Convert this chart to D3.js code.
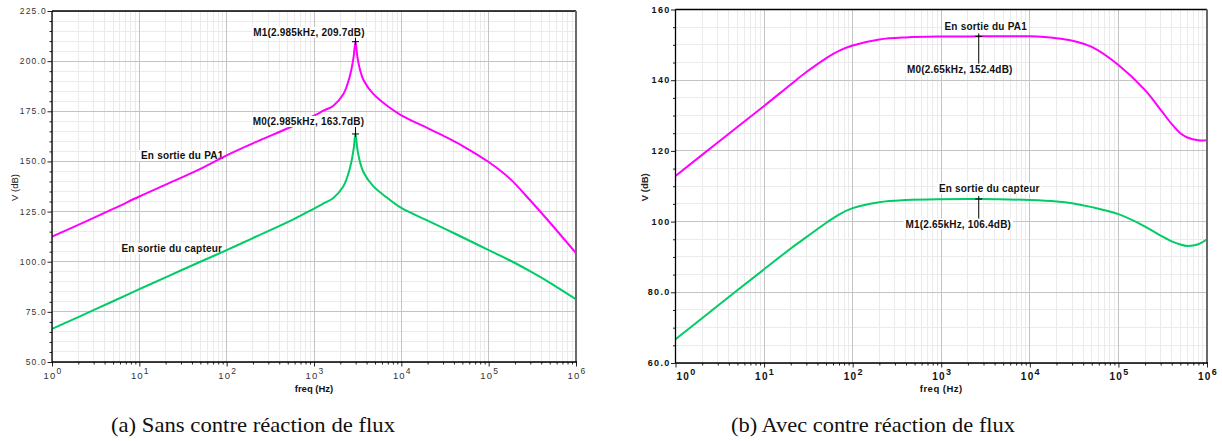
<!DOCTYPE html>
<html><head><meta charset="utf-8">
<script src="https://cdn.jsdelivr.net/npm/d3@7"></script>
<style>
html,body{margin:0;padding:0;background:#fff;}
svg{display:block;}
</style></head><body>
<svg id="chart" width="1222" height="441"></svg>
<script>
// ---------------- data ----------------
// (a) Sans contre réaction de flux
const freqA = [1, 2, 5, 10, 20, 50, 100, 200, 581, 1000, 1300, 1667, 2163, 2450, 2685, 2850, 2985, 3130, 3373, 3700, 4740, 7000, 10000, 20000, 33000, 50000, 100000, 176000, 300000, 463000, 1000000];
const pa1A = [112.5, 118.4, 126.3, 132.5, 138.4, 146.3, 153, 159, 167.8, 172.8, 175.4, 177.8, 183.5, 189.3, 196, 202.5, 209.7, 202.5, 195.5, 190.5, 183.8, 177.5, 173, 166.6, 162, 157.8, 149.7, 141.3, 130.5, 121.3, 104.3];
const capteurA = [66.5, 72.4, 80.3, 86.3, 92.2, 100, 105.8, 111.8, 121.1, 126.5, 129.2, 131.8, 137.5, 143.3, 150, 156.5, 163.7, 156.5, 149.5, 144.5, 137.8, 131.6, 126.8, 120.5, 116, 112.2, 105.8, 100.6, 95.2, 90.5, 81.3];
const yTicksA = [50, 75, 100, 125, 150, 175, 200, 225];
const yTickLabelsA = ["50.0", "75.0", "100.0", "125.0", "150.0", "175.0", "200.0", "225.0"];
const markerFreqA = [2985, 2985];
const markerValA = [209.7, 163.7];
const markerTextA = ["M1(2.985kHz, 209.7dB)", "M0(2.985kHz, 163.7dB)"];

// (b) Avec contre réaction de flux
const freqB = [1, 3, 10, 20, 30, 50, 70, 100, 200, 400, 1000, 2650, 10000, 20000, 30000, 50000, 100000, 200000, 300000, 400000, 500000, 600000, 800000, 1000000];
const pa1B = [112.9, 122.4, 132.7, 138.8, 142.3, 146.2, 148.3, 149.8, 151.5, 152.1, 152.35, 152.4, 152.4, 151.9, 151.2, 149.4, 144.3, 137.2, 131.6, 127.6, 125, 123.8, 123.0, 123.0];
const capteurB = [66.7, 76.2, 86.5, 92.4, 95.6, 99.6, 102, 103.8, 105.5, 106.1, 106.35, 106.4, 106.1, 105.7, 105.2, 104.1, 102.1, 98.6, 96, 94.4, 93.5, 93.1, 93.6, 95];
const yTicksB = [60, 80, 100, 120, 140, 160];
const yTickLabelsB = ["60.0", "80.0", "100", "120", "140", "160"];
const markerFreqB = [2650, 2650];
const markerValB = [152.4, 106.4];
const markerTextB = ["M0(2.65kHz, 152.4dB)", "M1(2.65kHz, 106.4dB)"];

const xTickExponents = [0, 1, 2, 3, 4, 5, 6];
const seriesNames = ["En sortie du PA1", "En sortie du capteur"];
const captions = ["(a) Sans contre réaction de flux", "(b) Avec contre réaction de flux"];
const xTitle = "freq (Hz)";
const yTitle = "V (dB)";

// ---------------- layout / style ----------------
const colors = ["#ff00ff", "#00cc66"];
const SANS = '"Liberation Sans", Arial, sans-serif';
const svg = d3.select("#chart");

const charts = [
  {
    x0: 52, x1: 576, y0: 11, y1: 362, yDomain: [50, 225], yMinorStep: 5,
    freq: freqA, series: [pa1A, capteurA], yTicks: yTicksA, yLabels: yTickLabelsA,
    curve: d3.curveCatmullRom.alpha(0.5),
    tickWeight: "normal", tickColor: "#333", tickSize: 8.5, tickSpacing: 1.2,
    xLabelY: 379, firstStart: false, xTitleY: 392, yTitleX: 15, titleWeight: "bold", yTitleWeight: "normal",
    markers: [
      {f: markerFreqA[0], v: markerValA[0], text: markerTextA[0], dx: -46.5, dy: -9.6},
      {f: markerFreqA[1], v: markerValA[1], text: markerTextA[1], dx: -47, dy: -12.6}
    ],
    seriesLabels: [
      {text: seriesNames[0], f: 31, v: 153},
      {text: seriesNames[1], f: 23.5, v: 106.6}
    ],
    caption: captions[0], captionX: 253
  },
  {
    x0: 675.5, x1: 1207, y0: 9.5, y1: 363, yDomain: [60, 160], yMinorStep: 5,
    freq: freqB, series: [pa1B, capteurB], yTicks: yTicksB, yLabels: yTickLabelsB,
    curve: d3.curveCatmullRom.alpha(0.5),
    tickWeight: "bold", tickColor: "#111", tickSize: 9, tickSpacing: 1.3,
    xLabelY: 380, firstStart: true, xTitleY: 392, yTitleX: 645, titleWeight: "bold", yTitleWeight: "bold",
    markers: [
      {f: markerFreqB[0], v: markerValB[0], text: markerTextB[0], dx: -19, dy: 32.6},
      {f: markerFreqB[1], v: markerValB[1], text: markerTextB[1], dx: -20.5, dy: 25}
    ],
    seriesLabelsRel: [
      {text: seriesNames[0], mi: 0, dx: 7, dy: -9.6},
      {text: seriesNames[1], mi: 1, dx: 10.5, dy: -11}
    ],
    caption: captions[1], captionX: 873
  }
];

function addLabel(g, cx, cy, text) {
  const lg = g.append("g");
  const rect = lg.append("rect").attr("fill", "#fff");
  const t = lg.append("text")
    .attr("x", cx).attr("y", cy).attr("dy", "0.36em")
    .attr("text-anchor", "middle")
    .style("font-family", SANS).style("font-size", "10px").style("font-weight", "bold")
    .style("letter-spacing", "0.2px").attr("fill", "#111")
    .text(text);
  const bb = t.node().getBBox();
  rect.attr("x", bb.x - 2).attr("y", bb.y).attr("width", bb.width + 4).attr("height", bb.height);
  return bb;
}

charts.forEach(cfg => {
  const g = svg.append("g");
  const x = d3.scaleLog().domain([1, 1e6]).range([cfg.x0, cfg.x1]);
  const y = d3.scaleLinear().domain(cfg.yDomain).range([cfg.y1, cfg.y0]);

  const xMinor = x.ticks().filter(v => !xTickExponents.some(e => Math.abs(v - Math.pow(10, e)) < 1e-9));
  const xMajor = xTickExponents.map(e => Math.pow(10, e));
  const yMinor = d3.range(cfg.yDomain[0], cfg.yDomain[1] + 0.001, cfg.yMinorStep).filter(v => !cfg.yTicks.includes(v));

  // minor grid
  g.append("g").selectAll("line").data(xMinor).join("line")
    .attr("x1", d => x(d)).attr("x2", d => x(d)).attr("y1", cfg.y0).attr("y2", cfg.y1)
    .attr("stroke", "#ebebeb").attr("stroke-width", 1).attr("shape-rendering", "crispEdges");
  g.append("g").selectAll("line").data(yMinor).join("line")
    .attr("x1", cfg.x0).attr("x2", cfg.x1).attr("y1", d => y(d)).attr("y2", d => y(d))
    .attr("stroke", "#ebebeb").attr("stroke-width", 1).attr("shape-rendering", "crispEdges");
  // major grid
  g.append("g").selectAll("line").data(xMajor).join("line")
    .attr("x1", d => x(d)).attr("x2", d => x(d)).attr("y1", cfg.y0).attr("y2", cfg.y1)
    .attr("stroke", "#c4c4c4").attr("stroke-width", 1).attr("shape-rendering", "crispEdges");
  g.append("g").selectAll("line").data(cfg.yTicks).join("line")
    .attr("x1", cfg.x0).attr("x2", cfg.x1).attr("y1", d => y(d)).attr("y2", d => y(d))
    .attr("stroke", "#c4c4c4").attr("stroke-width", 1).attr("shape-rendering", "crispEdges");

  // series labels (with white background, under the curves)
  if (cfg.seriesLabels) {
    cfg.seriesLabels.forEach(l => addLabel(g, x(l.f), y(l.v), l.text));
  }
  if (cfg.seriesLabelsRel) {
    cfg.seriesLabelsRel.forEach(l => {
      const m = cfg.markers[l.mi];
      addLabel(g, x(m.f) + l.dx, y(m.v) + l.dy, l.text);
    });
  }

  // curves
  const line = d3.line().x(d => x(d[0])).y(d => y(d[1])).curve(cfg.curve);
  cfg.series.forEach((s, i) => {
    g.append("path").datum(cfg.freq.map((f, k) => [f, s[k]]))
      .attr("d", line).attr("fill", "none").attr("stroke", colors[i]).attr("stroke-width", 2);
  });

  // markers
  cfg.markers.forEach(m => {
    const px = x(m.f), py = y(m.v);
    const bb = addLabel(g, px + m.dx, py + m.dy, m.text);
    if (m.dy < 0) {
      g.append("line").attr("x1", px).attr("x2", px).attr("y1", bb.y + bb.height).attr("y2", py + 3)
        .attr("stroke", "#000").attr("stroke-width", 1);
    } else {
      g.append("line").attr("x1", px).attr("x2", px).attr("y1", py - 3).attr("y2", bb.y)
        .attr("stroke", "#000").attr("stroke-width", 1);
    }
    g.append("line").attr("x1", px - 3.5).attr("x2", px + 3.5).attr("y1", py).attr("y2", py)
      .attr("stroke", "#000").attr("stroke-width", 1);
  });

  // axes ticks (minor + major) via d3 axes
  const axMinorX = d3.axisBottom(x).tickValues(xMinor).tickSize(2.5).tickFormat("");
  const axMajorX = d3.axisBottom(x).tickValues(xMajor).tickSize(4.5).tickFormat("");
  const axMinorY = d3.axisLeft(y).tickValues(yMinor).tickSize(2.5).tickFormat("");
  const axMajorY = d3.axisLeft(y).tickValues(cfg.yTicks).tickSize(4.5).tickFormat("");
  [axMinorX, axMajorX].forEach(a => {
    const ag = g.append("g").attr("transform", `translate(0,${cfg.y1})`).call(a);
    ag.select(".domain").remove();
    ag.selectAll("line").attr("stroke", "#222");
  });
  [axMinorY, axMajorY].forEach(a => {
    const ag = g.append("g").attr("transform", `translate(${cfg.x0},0)`).call(a);
    ag.select(".domain").remove();
    ag.selectAll("line").attr("stroke", "#222");
  });

  // frame
  g.append("line").attr("x1", cfg.x0).attr("x2", cfg.x1).attr("y1", cfg.y0).attr("y2", cfg.y0)
    .attr("stroke", "#000").attr("stroke-width", 1.3);
  g.append("line").attr("x1", cfg.x1).attr("x2", cfg.x1).attr("y1", cfg.y0).attr("y2", cfg.y1)
    .attr("stroke", "#6a6a6a").attr("stroke-width", 2);
  g.append("line").attr("x1", cfg.x0).attr("x2", cfg.x0).attr("y1", cfg.y0).attr("y2", cfg.y1)
    .attr("stroke", "#000").attr("stroke-width", 1.3);
  g.append("line").attr("x1", cfg.x0).attr("x2", cfg.x1 + 1).attr("y1", cfg.y1).attr("y2", cfg.y1)
    .attr("stroke", "#000").attr("stroke-width", 1.3);

  // y tick labels
  cfg.yTicks.forEach((v, i) => {
    g.append("text").attr("x", cfg.x0 - 5).attr("y", y(v)).attr("dy", "0.35em")
      .attr("text-anchor", "end")
      .style("font-family", SANS).style("font-size", cfg.tickSize + "px")
      .style("font-weight", cfg.tickWeight).style("letter-spacing", cfg.tickSpacing + "px")
      .attr("fill", cfg.tickColor).text(cfg.yLabels[i]);
  });

  // x tick labels 10^n
  xTickExponents.forEach((e, i) => {
    const start = cfg.firstStart && i === 0;
    const t = g.append("text").attr("x", start ? cfg.x0 + 1 : x(Math.pow(10, e)) + 1).attr("y", cfg.xLabelY)
      .attr("text-anchor", start ? "start" : "middle")
      .style("font-family", SANS).style("font-size", (cfg.tickSize + 1) + "px")
      .style("font-weight", cfg.tickWeight).style("letter-spacing", cfg.tickSpacing + "px")
      .attr("fill", cfg.tickColor);
    t.append("tspan").text("10");
    t.append("tspan").attr("dy", -5).style("font-size", (cfg.tickSize) + "px").text(e);
  });

  // axis titles
  g.append("text").attr("x", x(1000)).attr("y", cfg.xTitleY).attr("text-anchor", "middle")
    .style("font-family", SANS).style("font-size", "9.5px").style("font-weight", cfg.titleWeight)
    .style("letter-spacing", cfg.tickWeight === "bold" ? "0.5px" : "0px")
    .attr("fill", "#111").text(xTitle);
  g.append("text").attr("transform", `translate(${cfg.yTitleX},${(cfg.y0 + cfg.y1) / 2 + 1}) rotate(-90)`)
    .attr("text-anchor", "middle").attr("dy", "0.35em")
    .style("font-family", SANS).style("font-size", "9.5px").style("font-weight", cfg.yTitleWeight)
    .attr("fill", "#222").text(yTitle);

  // caption
  svg.append("text").attr("x", cfg.captionX).attr("y", 432).attr("text-anchor", "middle")
    .attr("textLength", 284).attr("lengthAdjust", "spacingAndGlyphs")
    .style("font-family", '"Liberation Serif", "Times New Roman", serif').style("font-size", "21px")
    .attr("fill", "#111").text(cfg.caption);
});
</script>
</body></html>
